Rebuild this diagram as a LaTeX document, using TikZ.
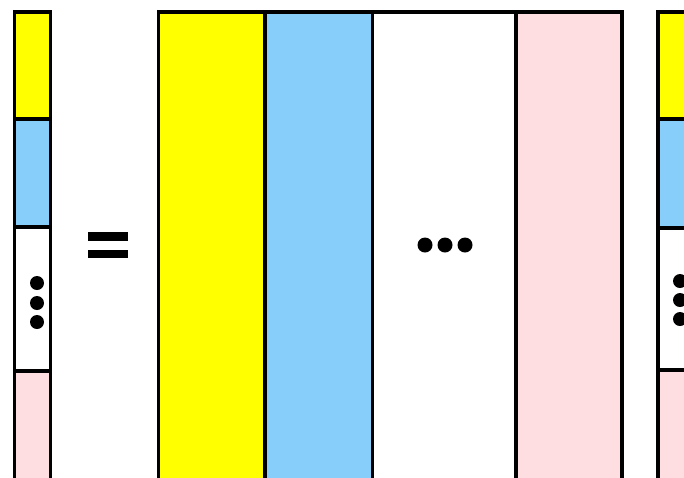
\documentclass[tikz,border=0pt]{standalone}
\definecolor{cyel}{HTML}{FFFF00}
\definecolor{cblu}{HTML}{87CEFA}
\definecolor{cpnk}{HTML}{FFDEE1}
\tikzset{
  cell/.style={draw=black,line width=3.3pt},
  dotmark/.style={circle,fill=black,inner sep=0pt,minimum size=#1},
  eqbar/.style={fill=black}
}
\begin{document}
\begin{tikzpicture}[x=1pt,y=-1pt]
\useasboundingbox (0,0) rectangle (684,477);
\begin{scope}
\clip (0,0) rectangle (684,477);
% left vector
\fill[cyel] (14.5,12) rectangle (50.5,119);
\fill[cblu] (14.5,119) rectangle (50.5,227);
\fill[white] (14.5,227) rectangle (50.5,371);
\fill[cpnk] (14.5,371) rectangle (50.5,490);
\draw[cell] (14.5,490) -- (14.5,12) -- (50.5,12) -- (50.5,490);
\draw[cell] (14.5,119) -- (50.5,119);
\draw[cell] (14.5,227) -- (50.5,227);
\draw[cell] (14.5,371) -- (50.5,371);
\node[dotmark=14pt] (l1) at (37,283) {};
\node[dotmark=14pt] (l2) at (37,303) {};
\node[dotmark=14pt] (l3) at (37,322) {};
% equals
\fill[eqbar] (88,232) rectangle (128,241);
\fill[eqbar] (88,250) rectangle (128,258);
% matrix
\fill[cyel] (158.5,12) rectangle (265,490);
\fill[cblu] (265,12) rectangle (372.5,490);
\fill[white] (372.5,12) rectangle (516,490);
\fill[cpnk] (516,12) rectangle (622,490);
\draw[cell] (158.5,490) -- (158.5,12) -- (622,12) -- (622,490);
\draw[cell] (265,12) -- (265,490);
\draw[cell] (372.5,12) -- (372.5,490);
\draw[cell] (516,12) -- (516,490);
\node[dotmark=15pt] (m1) at (425,245) {};
\node[dotmark=15pt] (m2) at (445,245) {};
\node[dotmark=15pt] (m3) at (465,245) {};
% right vector
\fill[cyel] (658,12) rectangle (700,119);
\fill[cblu] (658,119) rectangle (700,228);
\fill[white] (658,228) rectangle (700,370);
\fill[cpnk] (658,370) rectangle (700,490);
\draw[cell] (658,490) -- (658,12) -- (700,12);
\draw[cell] (658,119) -- (700,119);
\draw[cell] (658,228) -- (700,228);
\draw[cell] (658,370) -- (700,370);
\node[dotmark=14pt] (r1) at (680,281) {};
\node[dotmark=14pt] (r2) at (680,300) {};
\node[dotmark=14pt] (r3) at (680,319) {};
\end{scope}
\end{tikzpicture}
\end{document}
